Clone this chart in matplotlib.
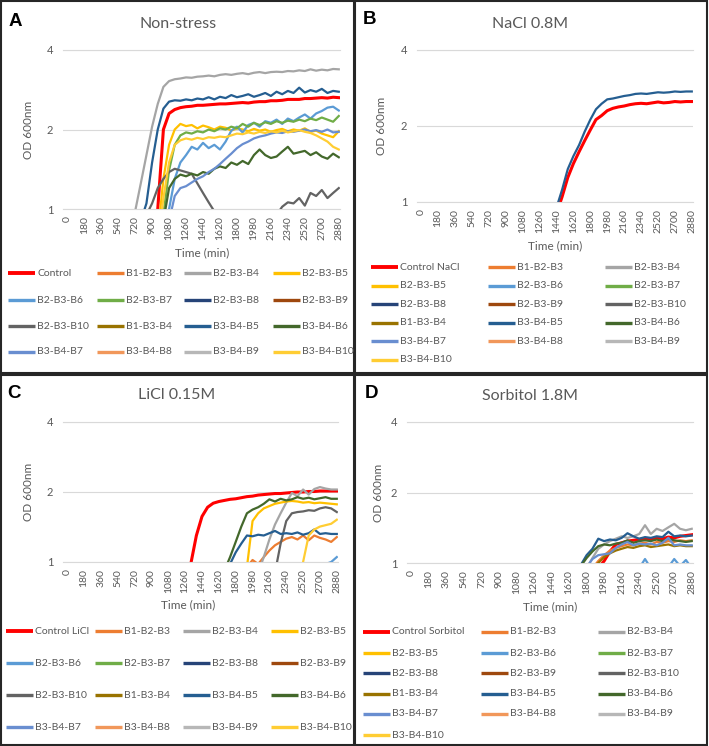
import matplotlib.pyplot as plt
import numpy as np
from matplotlib.lines import Line2D
from matplotlib.patches import Rectangle

W, H = 709, 746
STEP = 60   # minutes between readings
END = 2880  # every series below ends at 2880 min

STRAINS = ["B1-B2-B3", "B2-B3-B4", "B2-B3-B5", "B2-B3-B6", "B2-B3-B7",
           "B2-B3-B8", "B2-B3-B9", "B2-B3-B10", "B1-B3-B4", "B3-B4-B5",
           "B3-B4-B6", "B3-B4-B7", "B3-B4-B8", "B3-B4-B9", "B3-B4-B10"]
STRAIN_COLORS = ["#ED7D31", "#A5A5A5", "#FFC000", "#5B9BD5", "#70AD47",
                 "#264478", "#9E480E", "#636363", "#997300", "#255E91",
                 "#43682B", "#698ED0", "#F1975A", "#B7B7B7", "#FFCD33"]
CONTROL_COLOR = "#FF0000"

X_TICKS = [0, 180, 360, 540, 720, 900, 1080, 1260, 1440, 1620, 1800,
           1980, 2160, 2340, 2520, 2700, 2880]
Y_TICKS = [1, 2, 4]

# ---- A: non-stress ----
a_control = [0.8, 1.0, 2.0, 2.3, 2.38, 2.42, 2.44, 2.45, 2.47, 2.47, 2.48, 2.49,
             2.5, 2.5, 2.51, 2.52, 2.53, 2.52, 2.54, 2.55, 2.55, 2.57, 2.57, 2.58,
             2.6, 2.6, 2.6, 2.62, 2.62, 2.63, 2.64, 2.63, 2.65, 2.64]
a_b2b3b4 = [0.98, 1.25, 1.6, 2.05, 2.5, 2.9, 3.05, 3.1, 3.12, 3.15, 3.14, 3.17,
            3.18, 3.2, 3.18, 3.22, 3.24, 3.22, 3.25, 3.27, 3.24, 3.28, 3.3, 3.27,
            3.3, 3.31, 3.3, 3.33, 3.32, 3.35, 3.33, 3.38, 3.34, 3.37, 3.35, 3.39, 3.38]
a_b3b4b5 = [0.9, 1.05, 1.5, 2.0, 2.4, 2.55, 2.58, 2.57, 2.6, 2.58, 2.62, 2.6,
            2.65, 2.6, 2.66, 2.63, 2.7, 2.65, 2.68, 2.72, 2.66, 2.7, 2.75, 2.68,
            2.78, 2.72, 2.8, 2.75, 2.88, 2.76, 2.82, 2.78, 2.85, 2.75, 2.8, 2.78]
a_b2b3b5 = [0.8, 1.3, 1.75, 2.0, 2.1, 2.06, 2.08, 2.02, 2.07, 2.04, 2.0, 2.05,
            2.03, 1.98, 2.02, 2.0, 1.97, 2.01, 1.98, 2.0, 1.96, 1.99, 2.01, 1.97,
            2.0, 1.98, 2.02, 1.96, 1.98, 1.93, 1.9, 1.87, 1.97]
a_b3b4b10 = [0.75, 1.1, 1.5, 1.75, 1.82, 1.85, 1.83, 1.86, 1.84, 1.87, 1.86, 1.88,
             1.87, 1.9, 1.93, 1.92, 1.95, 1.93, 1.96, 1.94, 1.97, 1.95, 1.98, 1.95,
             1.97, 1.99, 1.96, 1.94, 1.9, 1.85, 1.8, 1.72, 1.68]
a_b2b3b7 = [0.7, 0.95, 1.4, 1.75, 1.9, 1.95, 1.93, 1.97, 1.95, 2.0, 1.97, 2.02,
            2.0, 2.05, 2.02, 2.1, 2.05, 2.12, 2.08, 2.13, 2.1, 2.15, 2.12, 2.16,
            2.14, 2.18, 2.15, 2.2, 2.17, 2.22, 2.18, 2.14, 2.25]
a_b2b3b6 = [0.8, 1.0, 1.3, 1.5, 1.6, 1.72, 1.68, 1.78, 1.7, 1.75, 1.68, 1.8,
            1.98, 2.05, 1.95, 2.08, 2.12, 2.05, 2.15, 2.12, 2.18, 2.1, 2.2, 2.15,
            2.22, 2.28, 2.2, 2.3, 2.35, 2.42, 2.44, 2.36]
a_b3b4b7 = [0.9, 1.12, 1.2, 1.22, 1.26, 1.3, 1.33, 1.38, 1.42, 1.48, 1.55, 1.62,
            1.7, 1.76, 1.8, 1.85, 1.88, 1.9, 1.93, 1.95, 1.94, 1.97, 1.96, 1.98,
            2.0, 1.97, 1.99, 1.96, 2.0, 1.95, 1.96]
a_b3b4b6 = [0.9, 1.2, 1.3, 1.35, 1.33, 1.36, 1.34, 1.38, 1.36, 1.42, 1.45, 1.43,
            1.5, 1.47, 1.52, 1.48, 1.6, 1.68, 1.6, 1.56, 1.58, 1.65, 1.72, 1.62,
            1.64, 1.66, 1.6, 1.64, 1.58, 1.55, 1.62, 1.57]
a_b2b3b10 = [0.95, 1.05, 1.2, 1.3, 1.38, 1.42, 1.4, 1.38, 1.36, 1.25, 1.15, 1.06,
             0.98, 0.9, 0.8, 0.8, 0.8, 0.8, 0.8, 0.8, 0.8, 0.8, 0.8,
             0.95, 1.02, 1.06, 1.05, 1.1, 1.03, 1.15, 1.12, 1.18, 1.1, 1.15, 1.2]

# ---- B: NaCl 0.8M ----
b_control = [0.9, 1.05, 1.25, 1.42, 1.58, 1.75, 1.93, 2.12, 2.2, 2.3, 2.35, 2.38,
             2.4, 2.43, 2.45, 2.46, 2.45, 2.47, 2.49, 2.47, 2.48, 2.5, 2.49, 2.5, 2.5]
b_b3b4b5 = [0.95, 1.12, 1.35, 1.52, 1.68, 1.9, 2.12, 2.33, 2.45, 2.55, 2.57, 2.6,
            2.63, 2.65, 2.68, 2.69, 2.68, 2.7, 2.72, 2.71, 2.72, 2.74, 2.73, 2.74, 2.74]

# ---- C: LiCl 0.15M ----
c_control = [0.85, 0.98, 1.3, 1.57, 1.72, 1.79, 1.82, 1.84, 1.86, 1.87, 1.89, 1.91,
             1.92, 1.94, 1.95, 1.96, 1.97, 1.97, 1.98, 1.99, 2.0, 2.0, 2.01, 2.01,
             2.02, 2.02, 2.02, 2.02]
c_b3b4b6 = [0.92, 1.05, 1.22, 1.42, 1.62, 1.68, 1.72, 1.78, 1.86, 1.82, 1.87, 1.84,
            1.86, 1.9, 1.87, 1.89, 1.86, 1.88, 1.9, 1.87, 1.87]
c_b2b3b5 = [0.95, 1.5, 1.62, 1.7, 1.74, 1.78, 1.8, 1.82, 1.83, 1.82, 1.8, 1.81,
            1.79, 1.8, 1.79, 1.78, 1.77]
c_b2b3b4 = [0.9, 1.05, 1.25, 1.45, 1.62, 1.8, 1.98, 1.92, 2.05, 1.95, 2.06, 2.1,
            2.07, 2.05, 2.05]
c_b2b3b10 = [0.9, 1.2, 1.5, 1.62, 1.64, 1.65, 1.67, 1.66, 1.7, 1.72, 1.7, 1.64]
c_b3b4b5 = [0.98, 1.1, 1.2, 1.3, 1.29, 1.31, 1.3, 1.33, 1.36, 1.32, 1.33, 1.32,
            1.34, 1.31, 1.33, 1.38, 1.32, 1.33, 1.32, 1.32]
c_b1b2b3 = [0.95, 1.02, 0.98, 1.05, 1.12, 1.18, 1.22, 1.26, 1.28, 1.25, 1.3, 1.24,
            1.3, 1.27, 1.25, 1.22, 1.28]
c_b3b4b10 = [0.8, 1.0, 1.3, 1.38, 1.42, 1.44, 1.46, 1.52]
c_b2b3b6 = [0.98, 1.0, 1.05]

# ---- D: sorbitol 1.8M ----
d_control = [0.95, 1.02, 1.12, 1.2, 1.22, 1.24, 1.25, 1.26, 1.27, 1.26, 1.28, 1.27,
             1.29, 1.28, 1.3, 1.31, 1.32]
d_b1b2b3 = [0.95, 1.02, 1.08, 1.13, 1.16, 1.18, 1.2, 1.19, 1.21, 1.22, 1.2, 1.23,
            1.22, 1.24, 1.23, 1.25, 1.24, 1.25]
d_b2b3b4 = [0.95, 1.05, 1.15, 1.2, 1.24, 1.27, 1.3, 1.28, 1.3, 1.33, 1.45, 1.33,
            1.4, 1.37, 1.42, 1.47, 1.4, 1.38, 1.4]
d_b2b3b6 = [0.95, 1.04, 0.95, 0.9, 0.9, 0.96, 1.04, 0.97, 1.03, 0.95]
d_b1b3b4 = [0.95, 1.0, 1.06, 1.1, 1.13, 1.15, 1.17, 1.16, 1.18, 1.19, 1.17, 1.18,
            1.19, 1.2, 1.18, 1.19, 1.18, 1.18]
d_b3b4b5 = [0.98, 1.08, 1.15, 1.27, 1.24, 1.26, 1.25, 1.28, 1.34, 1.3, 1.27, 1.29,
            1.28, 1.3, 1.29, 1.36, 1.3, 1.31, 1.3, 1.31]
d_b3b4b6 = [0.97, 1.05, 1.12, 1.18, 1.2, 1.19, 1.21, 1.22, 1.25, 1.22, 1.24, 1.25,
            1.24, 1.26, 1.24, 1.27, 1.25, 1.24, 1.23, 1.24]
d_b3b4b7 = [0.96, 1.04, 1.08, 1.09, 1.1, 1.16, 1.2, 1.23, 1.19, 1.21, 1.2, 1.21,
            1.19, 1.22, 1.28, 1.19, 1.2, 1.19, 1.19]

GRAY = "#595959"
plt.rcParams["font.family"] = ["Lato", "DejaVu Sans"]


def fx(x):
    return x / W


def fy(y):
    return 1 - y / H


def times(values):
    return np.arange(END - STEP * (len(values) - 1), END + 1, STEP)


def draw_panel(fig, p):
    left, top, right, bottom = p["box"]
    ax = fig.add_axes([fx(left), fy(bottom), fx(right - left), (bottom - top) / H])
    labels = [p["control"]] + STRAINS
    colors = [CONTROL_COLOR] + STRAIN_COLORS
    for i, (lab, col) in enumerate(zip(labels, colors)):
        vals = p["data"].get(lab)
        if vals is None:
            continue
        ax.plot(times(vals), vals, color=col, lw=2.2 if i == 0 else 1.6,
                zorder=2 + i, solid_joinstyle="round")
    ax.set_yscale("log", base=2)
    ax.set_ylim(1, 4)
    ax.set_xlim(-45, 2893)
    ax.set_yticks(Y_TICKS)
    ax.set_yticklabels([str(v) for v in Y_TICKS])
    ax.yaxis.set_minor_locator(plt.NullLocator())
    ax.set_xticks(X_TICKS)
    ax.set_xticklabels([str(v) for v in X_TICKS], rotation=90)
    ax.tick_params(axis="x", length=0, pad=5, labelsize=7.5, labelcolor=GRAY)
    ax.tick_params(axis="y", length=0, pad=7, labelsize=8, labelcolor=GRAY)
    for side in ("left", "right"):
        ax.spines[side].set_visible(False)
    for side in ("top", "bottom"):
        ax.spines[side].set_color("#D9D9D9")
        ax.spines[side].set_linewidth(0.8)
    ax.grid(axis="y", color="#D9D9D9", lw=0.8)
    ax.set_axisbelow(True)

    fig.text(fx(p["letter_xy"][0]), fy(p["letter_xy"][1]), p["letter"],
             family="Liberation Sans", weight="bold", fontsize=13.5,
             ha="center", va="center")
    fig.text(fx(p["title_xy"][0]), fy(p["title_xy"][1]), p["title"],
             fontsize=11.5, color=GRAY, ha="center", va="center")
    fig.text(fx(p["ylabel_xy"][0]), fy(p["ylabel_xy"][1]), "OD 600nm",
             fontsize=8.5, color=GRAY, rotation=90, ha="center", va="center")
    fig.text(fx(p["xlabel_xy"][0]), fy(p["xlabel_xy"][1]), "Time (min)",
             fontsize=8.5, color=GRAY, ha="center", va="center")

    ncol = len(p["cols"])
    for i, (lab, col) in enumerate(zip(labels, colors)):
        r, c = divmod(i, ncol)
        x0, y = p["cols"][c], p["rows"][r]
        fig.add_artist(Line2D([fx(x0), fx(x0 + 27)], [fy(y), fy(y)], color=col,
                              lw=2.8 if i == 0 else 2.4, solid_capstyle="butt"))
        fig.text(fx(x0 + 29), fy(y), lab, fontsize=7.5, color=GRAY,
                 ha="left", va="center")


panels = [
    dict(letter="A", title="Non-stress", control="Control",
         box=(63, 50, 340, 209), letter_xy=(15, 21), title_xy=(178, 24),
         ylabel_xy=(28, 130), xlabel_xy=(202, 253),
         cols=[8, 97, 184, 273], rows=[273, 300, 326, 352],
         data={"Control": a_control, "B2-B3-B4": a_b2b3b4, "B3-B4-B5": a_b3b4b5,
               "B2-B3-B5": a_b2b3b5, "B3-B4-B10": a_b3b4b10, "B2-B3-B7": a_b2b3b7,
               "B2-B3-B6": a_b2b3b6, "B3-B4-B7": a_b3b4b7, "B3-B4-B6": a_b3b4b6,
               "B2-B3-B10": a_b2b3b10}),
    dict(letter="B", title="NaCl 0.8M", control="Control NaCl",
         box=(417, 50, 693, 202), letter_xy=(369, 20), title_xy=(530, 24),
         ylabel_xy=(381, 126), xlabel_xy=(555, 246),
         cols=[371, 488, 605], rows=[267, 286, 304, 323, 341, 360],
         data={"Control NaCl": b_control, "B3-B4-B5": b_b3b4b5}),
    dict(letter="C", title="LiCl 0.15M", control="Control LiCl",
         box=(63, 422, 338, 562), letter_xy=(14, 393), title_xy=(177, 395),
         ylabel_xy=(28, 492), xlabel_xy=(188, 605),
         cols=[6, 95, 183, 271], rows=[631, 663, 695, 727],
         data={"Control LiCl": c_control, "B3-B4-B6": c_b3b4b6, "B2-B3-B5": c_b2b3b5,
               "B2-B3-B4": c_b2b3b4, "B2-B3-B10": c_b2b3b10, "B3-B4-B5": c_b3b4b5,
               "B1-B2-B3": c_b1b2b3, "B3-B4-B10": c_b3b4b10, "B2-B3-B6": c_b2b3b6}),
    dict(letter="D", title="Sorbitol 1.8M", control="Control Sorbitol",
         box=(407, 422, 693, 563), letter_xy=(372, 393), title_xy=(530, 396),
         ylabel_xy=(379, 493), xlabel_xy=(550, 607),
         cols=[363, 481, 598], rows=[632, 653, 673, 694, 714, 735],
         data={"Control Sorbitol": d_control, "B1-B2-B3": d_b1b2b3,
               "B2-B3-B4": d_b2b3b4, "B2-B3-B6": d_b2b3b6, "B1-B3-B4": d_b1b3b4,
               "B3-B4-B5": d_b3b4b5, "B3-B4-B6": d_b3b4b6, "B3-B4-B7": d_b3b4b7}),
]

fig = plt.figure(figsize=(W / 100, H / 100), dpi=100)

# panel frames
for x0, y0, x1, y1 in [(1, 1, 354, 373), (355, 1, 707, 373),
                       (1, 375, 354, 745), (355, 375, 707, 745)]:
    fig.add_artist(Rectangle((fx(x0), fy(y1)), fx(x1 - x0), (y1 - y0) / H,
                             fill=False, edgecolor="#262626", lw=1.5))

for p in panels:
    draw_panel(fig, p)

fig.savefig("out.png", dpi=100)
